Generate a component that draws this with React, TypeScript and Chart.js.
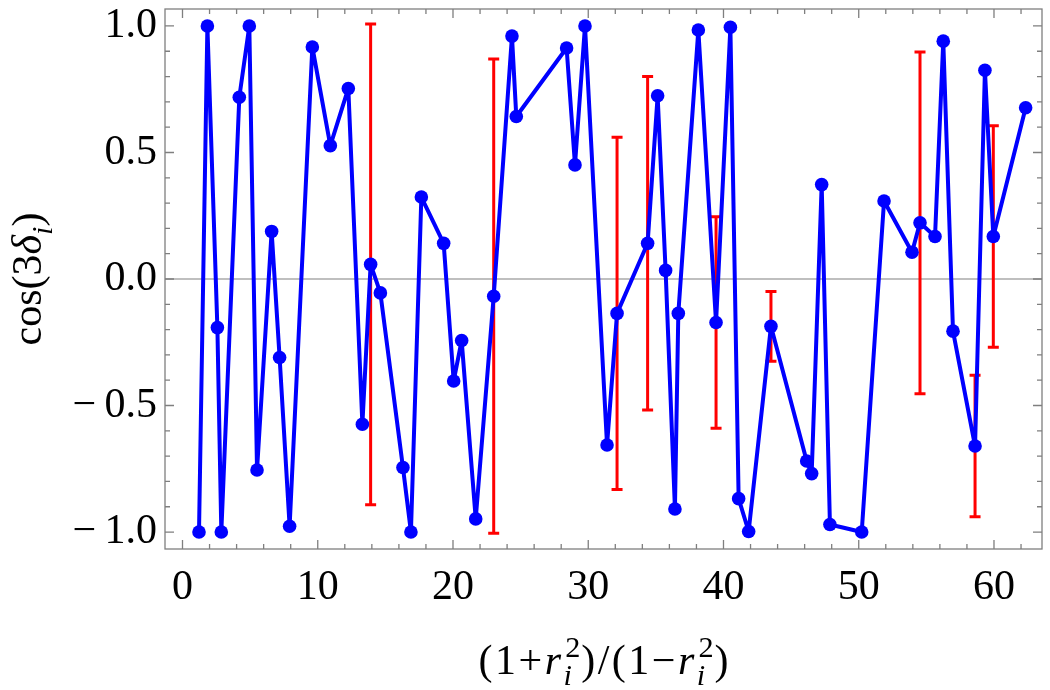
import React, { useEffect, useRef } from 'react';
import { Chart, registerables } from 'chart.js';

Chart.register(...registerables);

// ---- data ----
const xValues = [
  1.22, 1.84, 2.58, 2.87, 4.2, 4.94, 5.51, 6.59, 7.18, 7.92, 9.6, 10.93, 12.26, 13.3, 13.91,
  14.63, 16.3, 16.89, 17.66, 19.31, 20.05, 20.64, 21.68, 23.01, 24.36, 24.68, 28.4, 29.02,
  29.76, 31.39, 32.13, 34.39, 35.13, 35.72, 36.41, 36.66, 38.14, 39.45, 40.51, 41.12, 41.86,
  43.51, 46.15, 46.52, 47.26, 47.87, 50.22, 51.87, 53.94, 54.53, 55.64, 56.25, 56.97, 58.6,
  59.33, 59.95, 62.34,
];
const yValues = [
  -1.0, 1.0, -0.192, -1.0, 0.718, 1.0, -0.755, 0.188, -0.31, -0.977, 0.917, 0.527, 0.753,
  -0.574, 0.058, -0.055, -0.745, -1.0, 0.324, 0.141, -0.403, -0.243, -0.948, -0.068, 0.96,
  0.642, 0.913, 0.451, 1.0, -0.656, -0.136, 0.141, 0.724, 0.034, -0.909, -0.136, 0.984,
  -0.172, 0.995, -0.868, -0.998, -0.187, -0.719, -0.769, 0.373, -0.97, -1.0, 0.308, 0.106,
  0.222, 0.168, 0.94, -0.206, -0.66, 0.825, 0.168, 0.677,
];
const errorX = [13.91, 23.01, 32.13, 34.39, 39.45, 43.51, 54.53, 58.6, 59.95];
const errorY = [0.058, -0.068, -0.136, 0.141, -0.172, -0.187, 0.222, -0.66, 0.168];
const errorHalf = [0.95, 0.937, 0.696, 0.659, 0.418, 0.138, 0.675, 0.28, 0.438];

const xMajorTicks = [0, 10, 20, 30, 40, 50, 60];
const xMinorTicks = [2, 4, 6, 8, 12, 14, 16, 18, 22, 24, 26, 28, 32, 34, 36, 38, 42, 44, 46, 48, 52, 54, 56, 58, 62];
const yMajorTicks = [-1, -0.5, 0, 0.5, 1];
const yMinorTicks = [-0.9, -0.8, -0.7, -0.6, -0.4, -0.3, -0.2, -0.1, 0.1, 0.2, 0.3, 0.4, 0.6, 0.7, 0.8, 0.9];

const X_MIN = -1.294;
const X_MAX = 63.55;
const Y_MIN = -1.067;
const Y_MAX = 1.067;

const FONT = "'Liberation Serif', 'Times New Roman', serif";
const TICK_SIZE = 42;
const TITLE_SIZE = 42;
const FRAME = '#7f7f7f';

type Seg = { t: string; it?: boolean } | { sub?: string; sup?: string };

function drawRich(
  ctx: CanvasRenderingContext2D,
  segs: Seg[],
  size: number,
  cx: number,
  baseline: number,
  gap: number,
  scriptScale: number
) {
  const f = (it: boolean | undefined, s: number) => `${it ? 'italic ' : ''}${s}px ${FONT}`;
  const ss = size * scriptScale;
  const widths = segs.map((seg: any) => {
    if ('t' in seg) {
      ctx.font = f(seg.it, size);
      return ctx.measureText(seg.t).width + gap * seg.t.length;
    }
    let w = 0;
    if (seg.sub) { ctx.font = f(true, ss); w = Math.max(w, ctx.measureText(seg.sub).width); }
    if (seg.sup) { ctx.font = f(false, ss); w = Math.max(w, ctx.measureText(seg.sup).width); }
    return w + gap;
  });
  const total = widths.reduce((a, b) => a + b, 0) - gap;
  let x = cx - total / 2;
  ctx.textAlign = 'left';
  ctx.textBaseline = 'alphabetic';
  ctx.fillStyle = '#000';
  segs.forEach((seg: any, i) => {
    if ('t' in seg) {
      ctx.font = f(seg.it, size);
      let cx2 = x;
      for (const ch of seg.t) {
        ctx.fillText(ch, cx2, baseline);
        cx2 += ctx.measureText(ch).width + gap;
      }
    } else {
      if (seg.sub) { ctx.font = f(true, ss); ctx.fillText(seg.sub, x, baseline + size * 0.27); }
      if (seg.sup) { ctx.font = f(false, ss); ctx.fillText(seg.sup, x + size * 0.04, baseline - size * 0.4); }
    }
    x += widths[i];
  });
}

const framePlugin = {
  id: 'mmaFrame',
  beforeDatasetsDraw(chart: any) {
    const { ctx, chartArea: a, scales } = chart;
    const xs = scales.x;
    const ys = scales.y;
    ctx.save();
    // zero line
    ctx.strokeStyle = '#808080';
    ctx.lineWidth = 1.2;
    const y0 = ys.getPixelForValue(0);
    ctx.beginPath();
    ctx.moveTo(a.left, y0);
    ctx.lineTo(a.right, y0);
    ctx.stroke();
    // error bars
    ctx.strokeStyle = '#ff0000';
    ctx.lineWidth = 3;
    for (let i = 0; i < errorX.length; i++) {
      const px = xs.getPixelForValue(errorX[i]);
      const top = ys.getPixelForValue(errorY[i] + errorHalf[i]);
      const bot = ys.getPixelForValue(errorY[i] - errorHalf[i]);
      ctx.beginPath();
      ctx.moveTo(px, top);
      ctx.lineTo(px, bot);
      ctx.moveTo(px - 5.5, top);
      ctx.lineTo(px + 5.5, top);
      ctx.moveTo(px - 5.5, bot);
      ctx.lineTo(px + 5.5, bot);
      ctx.stroke();
    }
    ctx.restore();
  },
  afterDraw(chart: any) {
    const { ctx, chartArea: a, scales } = chart;
    const xs = scales.x;
    const ys = scales.y;
    ctx.save();
    ctx.strokeStyle = FRAME;
    ctx.lineWidth = 1.3;
    ctx.strokeRect(a.left, a.top, a.right - a.left, a.bottom - a.top);
    ctx.beginPath();
    const xt = (v: number, len: number) => {
      const p = xs.getPixelForValue(v);
      ctx.moveTo(p, a.bottom);
      ctx.lineTo(p, a.bottom - len);
      ctx.moveTo(p, a.top);
      ctx.lineTo(p, a.top + len);
    };
    const yt = (v: number, len: number) => {
      const p = ys.getPixelForValue(v);
      ctx.moveTo(a.left, p);
      ctx.lineTo(a.left + len, p);
      ctx.moveTo(a.right, p);
      ctx.lineTo(a.right - len, p);
    };
    xMajorTicks.forEach((v) => xt(v, 9));
    xMinorTicks.forEach((v) => xt(v, 5));
    yMajorTicks.forEach((v) => yt(v, 9));
    yMinorTicks.forEach((v) => yt(v, 5));
    ctx.stroke();

    // x axis title: (1+r_i^2)/(1-r_i^2)
    drawRich(
      ctx,
      [
        { t: '(1+' },
        { t: 'r', it: true },
        { sub: 'i', sup: '2' },
        { t: ')/(1\u2212' },
        { t: 'r', it: true },
        { sub: 'i', sup: '2' },
        { t: ')' },
      ],
      TITLE_SIZE,
      (a.left + a.right) / 2,
      674,
      2.5,
      0.72
    );
    // y axis title: cos(3 delta_i)
    ctx.save();
    ctx.translate(41, (a.top + a.bottom) / 2);
    ctx.rotate(-Math.PI / 2);
    drawRich(
      ctx,
      [{ t: 'cos(3' }, { t: '\u03b4', it: true }, { sub: 'i' }, { t: ')' }],
      TITLE_SIZE,
      0,
      0,
      0,
      0.72
    );
    ctx.restore();
    ctx.restore();
  },
};

const zeroPad = (s: any) => {
  s.paddingTop = 0;
  s.paddingBottom = 0;
  s.paddingLeft = 0;
  s.paddingRight = 0;
};

export default function App() {
  const ref = useRef<HTMLCanvasElement | null>(null);
  useEffect(() => {
    if (!ref.current) return;
    const chart = new Chart(ref.current, {
      type: 'line',
      data: {
        datasets: [
          {
            data: xValues.map((x, i) => ({ x, y: yValues[i] })),
            borderColor: '#0000ff',
            backgroundColor: '#0000ff',
            borderWidth: 4,
            pointRadius: 6.8,
            pointBorderWidth: 0,
            pointBackgroundColor: '#0000ff',
            borderJoinStyle: 'round',
            borderCapStyle: 'round',
            tension: 0,
          } as any,
        ],
      },
      options: {
        animation: false,
        responsive: false,
        devicePixelRatio: 1,
        events: [],
        layout: { padding: { top: 9, right: 8, left: 0, bottom: 0 }, autoPadding: false } as any,
        plugins: { legend: { display: false }, tooltip: { enabled: false } },
        scales: {
          x: {
            type: 'linear',
            min: X_MIN,
            max: X_MAX,
            grid: { display: false, drawTicks: false },
            border: { display: false },
            afterBuildTicks: (s: any) => {
              s.ticks = xMajorTicks.map((v) => ({ value: v }));
            },
            afterFit: (s: any) => {
              s.height = 141;
              zeroPad(s);
            },
            ticks: {
              autoSkip: false,
              maxRotation: 0,
              padding: 14,
              color: '#000',
              font: { family: FONT, size: TICK_SIZE },
              callback: (v: any) => String(v),
            },
          },
          y: {
            type: 'linear',
            min: Y_MIN,
            max: Y_MAX,
            grid: { display: false, drawTicks: false },
            border: { display: false },
            afterBuildTicks: (s: any) => {
              s.ticks = yMajorTicks.map((v) => ({ value: v }));
            },
            afterFit: (s: any) => {
              s.width = 165;
              zeroPad(s);
            },
            ticks: {
              autoSkip: false,
              padding: 8,
              color: '#000',
              font: { family: FONT, size: TICK_SIZE },
              callback: (v: any) =>
                (Number(v) < 0 ? '\u2212\u2009' : '') + Math.abs(Number(v)).toFixed(1),
            },
          },
        },
      },
      plugins: [framePlugin],
    });
    return () => chart.destroy();
  }, []);
  return (
    <div style={{ position: 'absolute', left: 0, top: 0, width: 1050, height: 690, background: '#fff' }}>
      <canvas ref={ref} width={1050} height={690} style={{ display: 'block' }} />
    </div>
  );
}
